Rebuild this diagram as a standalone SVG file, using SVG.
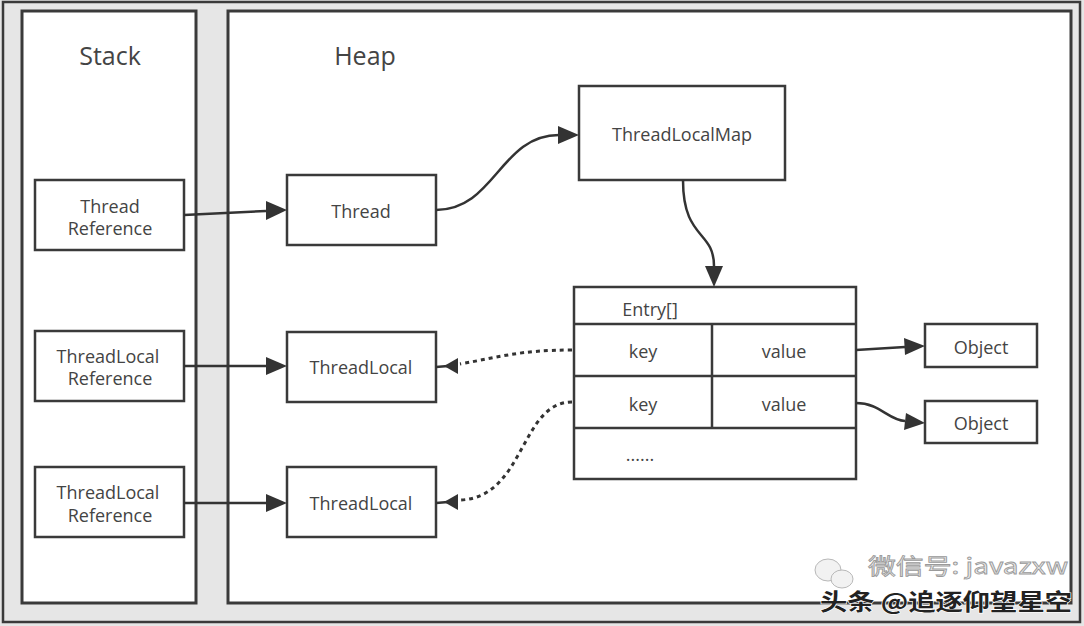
<svg xmlns="http://www.w3.org/2000/svg" width="1084" height="626" viewBox="0 0 1084 626">
<style>
.frame{fill:#fff;stroke:#3a3a3a;stroke-width:3}
.box{fill:#fff;stroke:#3a3a3a;stroke-width:2.5}
.t{font-family:"Open Sans","Noto Sans","DejaVu Sans",sans-serif;font-size:18px;fill:#444;text-anchor:middle}
.title{font-family:"Open Sans","Noto Sans","DejaVu Sans",sans-serif;font-size:25px;fill:#444;text-anchor:middle}
.c{fill:none;stroke:#333;stroke-width:2.5}
.d{fill:none;stroke:#333;stroke-width:3;stroke-dasharray:4 4}
.wm1{font-family:"Noto Sans CJK SC","Noto Sans",sans-serif;font-size:22px;fill:#e8e8e8;stroke:#9a9a9a;stroke-width:0.8}
.wm2{font-family:"Noto Sans CJK SC","Noto Sans",sans-serif;font-size:23px;font-weight:bold;fill:#222;stroke:#fff;stroke-width:1.2;paint-order:stroke}
</style>
<rect x="0" y="0" width="1084" height="626" fill="#e6e6e6"/>
<rect x="3" y="2" width="1077" height="620" fill="none" stroke="#3a3a3a" stroke-width="2.5"/>
<g id="stack">
<rect class="frame" x="22" y="11" width="174" height="592"/>
<text class="title" x="110" y="65">Stack</text>
</g>
<g id="heap">
<rect class="frame" x="228" y="11" width="843" height="592"/>
<text class="title" x="365" y="65">Heap</text>
</g>
<g id="threadRef">
<rect class="box" x="35" y="180" width="149" height="70"/>
<text class="t" x="110" y="213">Thread</text>
<text class="t" x="110" y="235">Reference</text>
</g>
<g id="tlRef1">
<rect class="box" x="35" y="331" width="149" height="70"/>
<text class="t" x="108" y="363">ThreadLocal</text>
<text class="t" x="110" y="385">Reference</text>
</g>
<g id="tlRef2">
<rect class="box" x="35" y="467" width="149" height="70"/>
<text class="t" x="108" y="499">ThreadLocal</text>
<text class="t" x="110" y="522">Reference</text>
</g>
<g id="thread">
<rect class="box" x="287" y="175" width="149" height="70"/>
<text class="t" x="361" y="218">Thread</text>
</g>
<g id="threadLocal1">
<rect class="box" x="287" y="332" width="149" height="70"/>
<text class="t" x="361" y="374">ThreadLocal</text>
</g>
<g id="threadLocal2">
<rect class="box" x="287" y="467" width="149" height="70"/>
<text class="t" x="361" y="510">ThreadLocal</text>
</g>
<g id="threadLocalMap">
<rect class="box" x="579" y="86" width="206" height="94"/>
<text class="t" x="682" y="141">ThreadLocalMap</text>
</g>
<g id="entry">
<rect class="box" x="574" y="287" width="282" height="192"/>
<line class="box" x1="574" y1="324" x2="856" y2="324"/>
<line class="box" x1="574" y1="376" x2="856" y2="376"/>
<line class="box" x1="574" y1="428" x2="856" y2="428"/>
<line class="box" x1="712" y1="324" x2="712" y2="428"/>
<text class="t" x="650" y="316">Entry[]</text>
<text class="t" x="643" y="358">key</text>
<text class="t" x="784" y="358">value</text>
<text class="t" x="643" y="411">key</text>
<text class="t" x="784" y="411">value</text>
<text class="t" x="640" y="461">......</text>
</g>
<g id="object1">
<rect class="box" x="925" y="324" width="112" height="43"/>
<text class="t" x="981" y="354">Object</text>
</g>
<g id="object2">
<rect class="box" x="925" y="401" width="112" height="42"/>
<text class="t" x="981" y="430">Object</text>
</g>
<g id="connectors">
<path class="c" d="M184,215 L266,211"/>
<path d="M266,201 L287,210 L266,220 Z" fill="#333"/>
<path class="c" d="M184,366 L266,366"/>
<path d="M266,357 L287,366 L266,375 Z" fill="#333"/>
<path class="c" d="M184,503 L266,503"/>
<path d="M266,494 L287,503 L266,512 Z" fill="#333"/>
<path class="c" d="M436,210 C495,210 500,135 559,135"/>
<path d="M558,126 L579,135 L558,144 Z" fill="#333"/>
<path class="c" d="M683,180 C683,240 714,230 714,266"/>
<path d="M705,266 L714,287 L723,266 Z" fill="#333"/>
<path class="c" d="M856,350 L905,347"/>
<path d="M904,338 L925,346 L905,355 Z" fill="#333"/>
<path class="c" d="M856,403 C880,403 888,420 905,421"/>
<path d="M906,413 L925,423 L904,430 Z" fill="#333"/>
<path class="d" d="M572,350 C520,350 500,357 460,364"/>
<path class="c" d="M436,367 L448,366"/>
<path d="M444,366 L458,358 L458,374 Z" fill="#333"/>
<path class="d" d="M572,402 C520,402 525,498 460,500"/>
<path class="c" d="M436,503 L448,502"/>
<path d="M444,502 L458,494 L458,510 Z" fill="#333"/>
</g>
<g id="watermark">
<ellipse cx="828" cy="570" rx="13" ry="11" fill="#f2f2f2" stroke="#b8b8b8" stroke-width="1"/>
<ellipse cx="842" cy="579" rx="11" ry="9" fill="#f2f2f2" stroke="#b8b8b8" stroke-width="1"/>
<text class="wm1" x="868" y="574" textLength="200" lengthAdjust="spacingAndGlyphs">微信号: javazxw</text>
<text class="wm2" x="820" y="610" textLength="252" lengthAdjust="spacingAndGlyphs">头条 @追逐仰望星空</text>
</g>
</svg>
